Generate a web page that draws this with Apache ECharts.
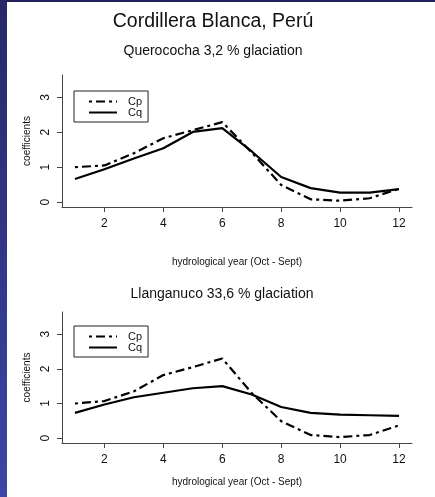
<!DOCTYPE html>
<html>
<head>
<meta charset="utf-8">
<script src="https://cdn.jsdelivr.net/npm/echarts@6/dist/echarts.min.js"></script>
<style>
html,body{margin:0;padding:0;background:#fff;width:435px;height:497px;overflow:hidden;}
#chart{width:435px;height:497px;}
</style>
</head>
<body>
<div id="chart"></div>
<script>
// ---- data ----
var months = [1, 2, 3, 4, 5, 6, 7, 8, 9, 10, 11, 12];
var xTicks = [2, 4, 6, 8, 10, 12];
var yTicks = [0, 1, 2, 3];
var seriesNames = ['Cp', 'Cq'];
var mainTitle = 'Cordillera Blanca, Perú';
var panelTitles = ['Querococha 3,2 % glaciation', 'Llanganuco 33,6 % glaciation'];
var cpQuerococha = [1.00, 1.05, 1.40, 1.83, 2.06, 2.29, 1.42, 0.49, 0.08, 0.04, 0.11, 0.38];
var cqQuerococha = [0.66, 0.94, 1.25, 1.54, 2.01, 2.12, 1.45, 0.72, 0.40, 0.27, 0.27, 0.37];
var cpLlanganuco = [1.00, 1.07, 1.35, 1.82, 2.05, 2.30, 1.30, 0.49, 0.09, 0.03, 0.09, 0.37];
var cqLlanganuco = [0.73, 0.97, 1.18, 1.31, 1.44, 1.50, 1.26, 0.90, 0.73, 0.68, 0.66, 0.64];
var xLabel = 'hydrological year (Oct - Sept)';
var yLabel = 'coefficients';

function pairs(vals) { return months.map(function (m, i) { return [m, vals[i]]; }); }

var FONT = '"Liberation Sans", Arial, Helvetica, sans-serif';
var dashDot = [3, 4, 9, 4];

function xAxisCfg(gi, gap) {
  return {
    type: 'value', gridIndex: gi, min: 0.56, max: 12.44,
    name: xLabel, nameLocation: 'middle', nameGap: gap,
    nameTextStyle: { fontFamily: FONT, fontSize: 10, color: '#111' },
    axisLine: { onZero: false, lineStyle: { color: '#444', width: 1 } },
    axisTick: { show: true, length: 5, lineStyle: { color: '#444' }, customValues: xTicks },
    axisLabel: { fontFamily: FONT, fontSize: 12, color: '#111', margin: 11, customValues: xTicks },
    splitLine: { show: false }
  };
}
function yAxisCfg(gi) {
  return {
    type: 'value', gridIndex: gi, min: -0.14, max: 3.64,
    name: yLabel, nameLocation: 'middle', nameGap: 23, nameRotate: 90,
    nameTextStyle: { fontFamily: FONT, fontSize: 10, color: '#111' },
    axisLine: { show: true, lineStyle: { color: '#444', width: 1 } },
    axisTick: { show: true, length: 5, lineStyle: { color: '#444' }, customValues: yTicks },
    axisLabel: { fontFamily: FONT, fontSize: 12, color: '#111', margin: 10, rotate: 90, customValues: yTicks },
    splitLine: { show: false }
  };
}
function lineSeries(name, vals, gi, dashed) {
  return {
    name: name, type: 'line', xAxisIndex: gi, yAxisIndex: gi,
    data: pairs(vals), symbol: 'none', silent: true,
    lineStyle: { color: '#000', width: 2.2, type: dashed ? dashDot : 'solid' },
    itemStyle: { color: '#000' }
  };
}
function legendCfg(top) {
  return {
    data: seriesNames, orient: 'vertical', left: 74, top: top,
    itemWidth: 28, itemHeight: 11, itemGap: 0,
    padding: [5, 6, 4, 14],
    borderColor: '#222', borderWidth: 1, borderRadius: 0,
    itemStyle: { opacity: 0 },
    textStyle: { fontFamily: FONT, fontSize: 11, color: '#111', padding: [0, 0, 0, 6] },
    selectedMode: false
  };
}

var chart = echarts.init(document.getElementById('chart'), null, { renderer: 'canvas', width: 435, height: 497 });
chart.setOption({
  backgroundColor: '#fff',
  animation: false,
  graphic: [
    { type: 'rect', left: 0, top: 0, shape: { width: 435, height: 2 }, style: { fill: '#1f2158' }, z: 100 },
    { type: 'rect', left: 0, top: 0, shape: { width: 7, height: 497 }, z: 100,
      style: { fill: { type: 'linear', x: 0, y: 0, x2: 0, y2: 1,
        colorStops: [{ offset: 0, color: '#262868' }, { offset: 1, color: '#3b46a6' }] } } }
  ],
  title: [
    { text: mainTitle, left: 213, top: 12, textAlign: 'center', padding: 0,
      textStyle: { fontFamily: FONT, fontSize: 19.5, fontWeight: 'normal', color: '#111' } },
    { text: panelTitles[0], left: 213, top: 44, textAlign: 'center', padding: 0,
      textStyle: { fontFamily: FONT, fontSize: 14, fontWeight: 'normal', color: '#111' } },
    { text: panelTitles[1], left: 222, top: 287, textAlign: 'center', padding: 0,
      textStyle: { fontFamily: FONT, fontSize: 14, fontWeight: 'normal', color: '#111' } }
  ],
  legend: [legendCfg(91), legendCfg(326)],
  grid: [
    { left: 62, top: 75, width: 350, height: 132, containLabel: false },
    { left: 62, top: 312, width: 350, height: 131, containLabel: false }
  ],
  xAxis: [xAxisCfg(0, 50), xAxisCfg(1, 34)],
  yAxis: [yAxisCfg(0), yAxisCfg(1)],
  series: [
    lineSeries('Cp', cpQuerococha, 0, true),
    lineSeries('Cq', cqQuerococha, 0, false),
    lineSeries('Cp', cpLlanganuco, 1, true),
    lineSeries('Cq', cqLlanganuco, 1, false)
  ]
});
</script>
</body>
</html>
